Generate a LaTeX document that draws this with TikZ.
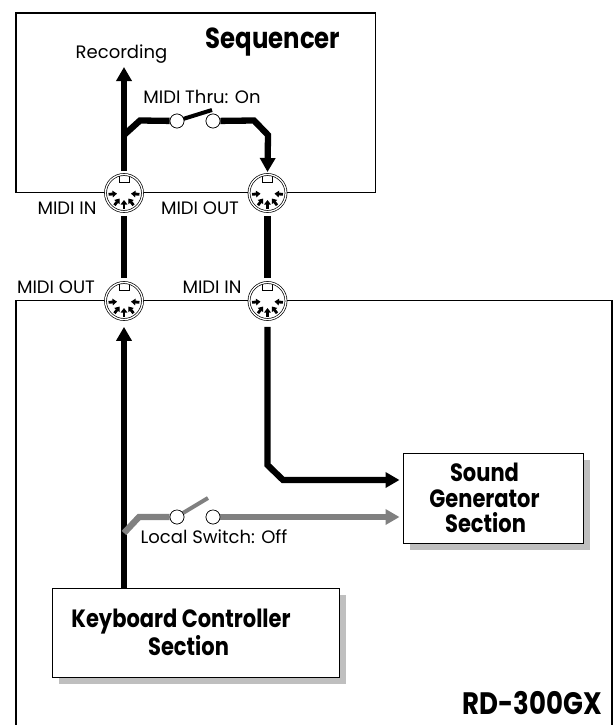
\documentclass[tikz,border=0pt]{standalone}
\usepackage{fontspec}
\setmainfont{Poppins}
\newfontfamily\headfont[FakeStretch=0.84]{Poppins}
\usetikzlibrary{arrows.meta, positioning, shadows}

\begin{document}
\begin{tikzpicture}[
  x=1pt, y=-1pt,
  panel/.style={line width=1.6pt},
  unit/.style={draw, line width=1pt, fill=white, align=center, inner sep=0pt, font=\headfont\fontsize{25}{25.5}\selectfont\bfseries,
    drop shadow={fill=black!25, opacity=1, shadow xshift=7pt, shadow yshift=-7pt}},
  wire/.style={line width=6.3pt},
  arr/.style={wire, -{Triangle[length=14pt, width=15pt]}},
  offwire/.style={wire, draw=black!50},
  lever/.style={line width=4pt},
  contact/.style={circle, draw, line width=0.6pt, fill=white, minimum size=14pt, inner sep=0pt},
  midi/.style={circle, draw, line width=0.7pt, double, double distance=1.3pt, fill=white, minimum size=37pt, inner sep=0pt,
    path picture={
      \foreach \a in {185, 232, 270, 308, 355} {
        \draw[line width=2.8pt, -{Triangle[length=4.5pt, width=6.5pt]}] (path picture bounding box.center) ++(\a:15.5pt) -- ++(\a:-8.5pt);
      }
      \draw[line width=0.7pt] (path picture bounding box.center) ++(-5,-17) -- ++(0,6) -- ++(10,0) -- ++(0,-6);
    }},
  lbl/.style={font=\fontsize{18}{20}\selectfont, inner sep=0pt},
  title/.style={font=\headfont\fontsize{29}{31}\selectfont\bfseries, inner sep=0pt}
]
\useasboundingbox (0,0) rectangle (613,725);

% outlines
\draw[panel] (16,13) rectangle (375.5,192.5);
\draw[panel] (16,725) -- (16,300.5) -- (612,300.5) -- (612,725);

\node[title] (sequencer) at (273,42) {Sequencer};
\node[title, font=\headfont\fontsize{31}{32}\selectfont\bfseries] (model) at (532.5,703) {RD-300GX};
\node[lbl] (recording) at (121.5,54) {Recording};
\node[lbl] (thru) at (202,97) {MIDI Thru: On};
\node[lbl] (local) at (214,537) {Local Switch: Off};
\node[lbl] (inlabelA) at (67,208) {MIDI IN};
\node[lbl] (outlabelA) at (200,208) {MIDI OUT};
\node[lbl] (outlabelB) at (56,287) {MIDI OUT};
\node[lbl] (inlabelB) at (212,287) {MIDI IN};

\node[unit, minimum width=180pt, minimum height=90pt] (sound) at (493,498) {\mbox{Sound\hspace{17pt}}\\\mbox{Generator\hspace{17pt}}\\\mbox{Section\hspace{15pt}}};
\node[unit, minimum width=287pt, minimum height=89pt] (keys) at (195.5,632.5) {\mbox{Keyboard Controller\hspace{29pt}}\\\mbox{Section\hspace{14pt}}};

\node[midi] (seqin) at (124,193) {};
\node[midi] (seqout) at (267.5,193) {};
\node[midi] (rdout) at (124,301) {};
\node[midi] (rdin) at (267.5,301) {};

\node[contact] (thruA) at (177,121) {};
\node[contact] (thruB) at (213,121) {};
\node[contact] (localA) at (177,517) {};
\node[contact] (localB) at (213,517) {};

\coordinate (rectip) at (124,67);
\coordinate (thrubase) at (124,135);
\coordinate (thruleft) at (140,120.5);
\coordinate (thruright) at (254,120.5);
\coordinate (thrudrop) at (268,135);
\coordinate (thrustem) at (267.5,172);
\coordinate (bendA) at (267.5,465);
\coordinate (bendB) at (283,480);
\coordinate (soundA) at (sound.west |- bendB);
\coordinate (soundB) at (sound.west |- localB);
\coordinate (localbase) at (124,533);
\coordinate (localleft) at (139,517);
\coordinate (thrutop) at (212,110);
\coordinate (localtop) at (208,498);

% signal paths
\draw[wire, shorten <=3pt] (seqin.north) -- (thrubase);
\draw[arr] (thrubase) -- (rectip);
\draw[wire, line join=miter] (thrubase) -- (thruleft) -- (thruA);
\draw[arr] (thruB) -- (thruright) -- (thrudrop) -- (thrustem);
\draw[lever] (thruA) ++(6,-2) -- (thrutop);
\draw[wire, shorten <=4pt, shorten >=4pt] (seqin.south) -- (rdout.north);
\draw[wire, shorten <=4pt, shorten >=4pt] (seqout.south) -- (rdin.north);
\draw[arr, shorten >=7pt] (keys.north -| rdout) -- (rdout.south);
\draw[arr, shorten >=3pt] (rdin.south) ++(0,7) -- (bendA) -- (bendB) -- (soundA);
\draw[offwire] (localbase) -- (localleft) -- (localA);
\draw[offwire, -{Triangle[length=14pt, width=15pt]}, shorten >=3pt] (localB) -- (soundB);
\draw[lever, draw=black!50] (localA) ++(6,-4) -- (localtop);
\node[contact] at (thruA) {};
\node[contact] at (thruB) {};
\node[contact] at (localA) {};
\node[contact] at (localB) {};
\end{tikzpicture}
\end{document}
